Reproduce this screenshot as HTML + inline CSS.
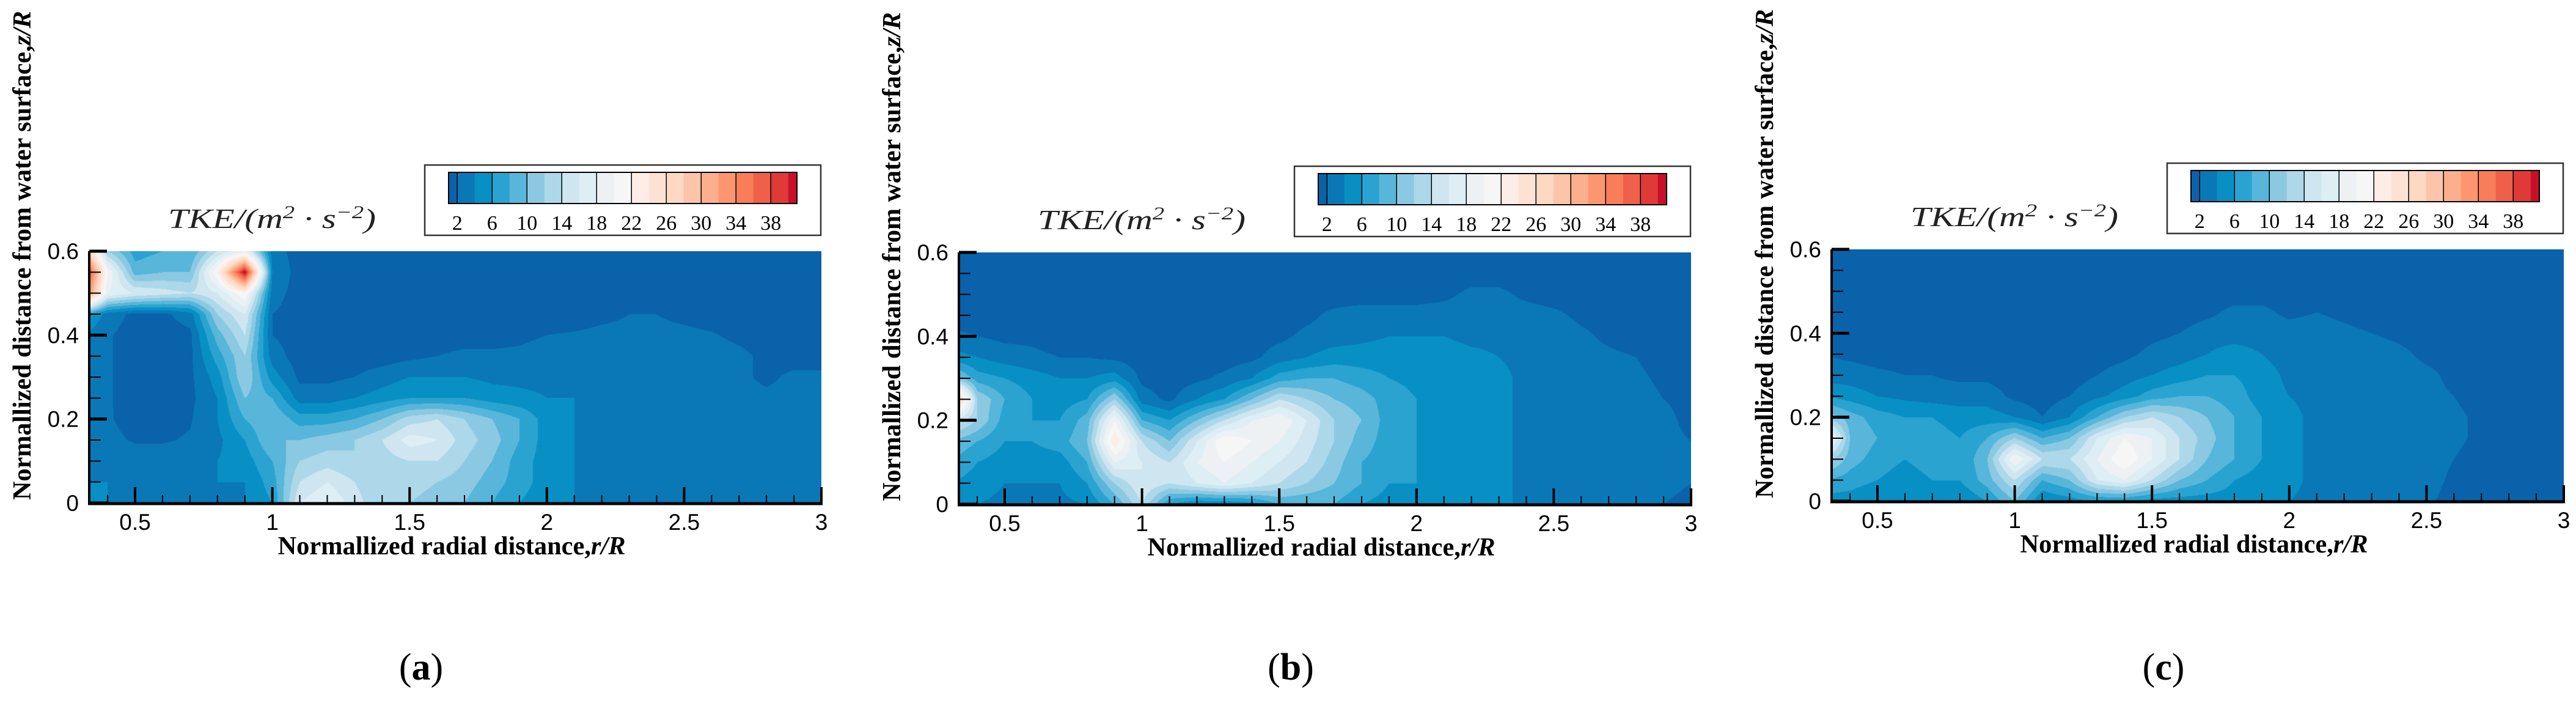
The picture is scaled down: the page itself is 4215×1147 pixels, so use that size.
<!DOCTYPE html>
<html><head><meta charset="utf-8"><style>
html,body{margin:0;padding:0;background:#fff;}
#root{position:relative;width:4215px;height:1147px;overflow:hidden;background:#fff;}
canvas{position:absolute;}
svg{position:absolute;left:0;top:0;}
</style></head><body>
<div id="root">
<svg id="ov" width="4215" height="1147"></svg>
</div>
<script>
// ---- data ----
const rGrid = [0.3,0.4,0.5,0.6,0.7,0.8,0.9,1.0,1.1,1.2,1.3,1.4,1.5,1.6,1.7,1.8,1.9,2.0,2.1,2.2,2.3,2.4,2.5,2.6,2.7,2.8,2.9,3.0];
const zGrid = [0.6,0.55,0.5,0.45,0.4,0.35,0.3,0.25,0.2,0.15,0.1,0.05,0.0];
const xTicks = [0.5,1,1.5,2,2.5,3];
const xTickLabels = ["0.5","1","1.5","2","2.5","3"];
const yTicks = [0,0.2,0.4,0.6];
const yTickLabels = ["0","0.2","0.4","0.6"];
const cbLabels = [2,6,10,14,18,22,26,30,34,38];
const bandColors = ["#0a62aa","#0a78b6","#0890c4","#2aa3d0","#57b6da","#8bc9e2","#acd8ea","#cfe6f0","#ddeef5","#edf1f4","#f6f6f6","#fdede6","#fde2d4","#fdd8c3","#fcc4a8","#fcaf8d","#fb9670","#f87d58","#f05f4a","#e03a38","#c8102a"];
const tkeA = [
[34,12,7,8,8,14,18,3,1,1,1,1,1,1,1,1,1,1,1,1,1,1,1,1,1,1,1,1],
[46,20,9,10,10,22,42,4,1,1,1,1,1,1,1,1,1,1,1,1,1,1,1,1,1,1,1,1],
[40,18,16,15,14,16,22,3,1,1,1,1,1,1,1,1,1,1,1,1,1,1,1,1,1,1,1,1],
[8,3,1.5,1.5,3,12,16,2,1,1,1,1,1,1,1,1,1,1,1,1.5,2,2,1.5,1,1,1,1,1],
[4,2.2,1.2,1.2,1.5,9,14,2,1,1,1,1,1,1,1,1,1.5,2,2.2,2.5,2.5,2.5,2.5,2.2,1.5,1,1,1],
[4,2.2,1.2,1.2,1.5,7,12,3,1,1,1,1,1.5,2,2.5,2.5,2.5,3,3,3,3,3,3,3,2.5,1.5,1,1],
[4,2.2,1.2,1.2,1.5,5,12,5,1.5,1.5,2,3,4,4,4,3.5,3.5,3.5,3.5,3.5,3.5,3.5,3.5,3,2.5,1.5,2.5,2.5],
[4,2.2,1.2,1.2,1.5,4,10,8,3,3,4,5,6,6,6,5,4.5,4,4,3.5,3.5,3.5,3.5,3.5,3,2.5,3,3],
[4,2.2,1.3,1.3,1.8,4,8,10,7,7,8,10,13,14,12,10,8,5,4,3.5,3.5,3.5,3.5,3.5,3,3,3,3],
[4,2.5,1.8,1.8,2.2,3.5,6,10,10,11,12,14,17,16,13,11,8,5,4,3.5,3.5,3.5,3.5,3.5,3,3,3,3],
[4,3.5,3,3,3,4,5,8,12,13,12,13,14,14,12,10,7,5,4,3.5,3.5,3.5,3.5,3.5,3,3,3,3],
[4,4,3.5,3.5,3.5,4,4,7,14,16,14,12,13,12,11,9,7,5,4,3.5,3.5,3.5,3.5,3.5,3,3,3,2.5],
[4,4,3.5,3.5,3.5,3.5,4,6,16,18,15,12,12,11,10,8,6,4.5,4,3.5,3.5,3.5,3.5,3.5,3,3,3,2]
];
const tkeB = [
[1,1,1,1,1,1,1,1,1,1,1,1,1,1,1,1,1,1,1,1,1,1,1,1,1,1,1,1],
[1,1,1,1,1,1,1,1,1,1,1,1,1,1,1,1,1,1,1,1,1,1,1,1,1,1,1,1],
[1,1,1,1,1,1,1,1,1,1,1,1,1,1,1,1,1,1,1.5,2.5,2.5,1.5,1,1,1,1,1,1],
[1,1,1,1,1,1,1,1,1,1,1,1,1,1.5,2.5,3,3,3,3,3,3,3,2.5,1.5,1,1,1,1],
[2.5,2,1.5,1.5,1,1,1,1,1,1,1,1,1.5,2.5,3,3.5,4,4,4,3.5,3.5,3.5,3.5,2.5,1.5,1,1,1],
[5,4,3,2.5,2,2,1.5,1,1,1,1,1.5,3,4,5,5,5,5,5,4.5,4,3.5,3.5,3,2.5,2,1,1],
[12,7,6,5,4,4,5,1.5,1,1.5,2.5,4,7,8,8,7,6,5.5,5,5,4.5,3.5,3.5,3,3,2.5,1.5,1],
[36,12,8,6,5,6,12,3,1.5,4,6,10,14,12,10,9,7,6,5,5,4.5,3.5,3.5,3,3,3,2,1.5],
[16,12,7,6,6,9,20,8,6,10,14,18,20,16,12,10,7,6,5,5,4.5,3.5,3.5,3,3,3,2.5,1.5],
[10,8,6,6,7,10,24,14,10,16,22,20,18,15,12,9,7,6,5,5,4.5,3.5,3.5,3,3,3,2.5,2],
[8,6,5,5,5,8,18,16,14,18,20,18,16,14,11,8,7,6,5,5,4.5,3.5,3.5,3,3,3,2.5,2],
[6,5,4,4,4,6,12,16,14,16,18,16,14,12,10,8,6,6,5,5,4.5,3.5,3.5,3,3,3,2.5,2],
[4,4,3.5,3.5,3.5,4,8,14,6,4,4,5,8,8,8,6,5,5,5,5,4.5,3.5,3.5,3,3,3,2,1.5]
];
const tkeC = [
[1,1,1,1,1,1,1,1,1,1,1,1,1,1,1,1,1,1,1,1,1,1,1,1,1,1,1,1],
[1,1,1,1,1,1,1,1,1,1,1,1,1,1,1,1,1,1,1,1,1,1,1,1,1,1,1,1],
[1,1,1,1,1,1,1,1,1,1,1,1,1,1,1,1,1,1,1,1,1,1,1,1,1,1,1,1],
[1,1,1,1,1,1,1,1,1,1,1,1,1,1,1.5,2.5,2.5,1.5,2,1.5,1,1,1,1,1,1,1,1],
[1,1,1,1,1,1,1,1,1,1,1,1,1.5,2,3,3,3,3,3,2.5,2,1.5,1,1,1,1,1,1],
[2,1.5,1,1,1,1,1,1,1,1,1,1.5,2.5,3,4,5,4,3,3,3,3,2.5,1.5,1,1,1,1,1],
[3,3,2.5,2,2,1.5,1.5,1,1,1,2,3,4,5,6,6,5,3.5,3,3,3,3,2.5,1.5,1,1,1,1],
[6,5,4,3.5,3,3,3,1.5,1,2,3.5,5,7,8,8,7,5,4,3.5,3,3,3,2.5,2,1,1,1,1],
[12,9,7,6,6,5,5,4,2,4,8,12,14,12,10,8,6,4.5,3.5,3,3,3,3,2.5,1.5,1,1,1],
[24,10,8,7,7,6,8,12,8,10,16,20,18,14,11,8,6,4.5,3.5,3,3,3,3,2.5,1.5,1,1,1],
[14,9,7,6,7,6,10,20,14,14,18,22,18,14,10,8,6,4.5,3.5,3,3,3,3,2,1,1,1,1],
[8,7,6,5,6,6,9,14,8,10,16,18,14,10,8,6,5,4.5,3.5,3,3,3,3,1.5,1,1,1,1],
[5,5,4,4,4,4,6,10,4,5,6,6,5,5,5,5,4.5,4,3.5,3,3,3,2.5,1,1,1,1,1]
];
const panelFields = [tkeA, tkeB, tkeC];
const panelLetters = ["a","b","c"];

// ---- layout ----
const R0 = 0.333, R1 = 3.0, Z0 = 0, Z1 = 0.6;
const PW = 1198, PH = 412;
const panelDX = [146, 1569, 2997];
const panelTop = [411, 413, 408];
const NS = "http://www.w3.org/2000/svg";
const ov = document.getElementById('ov');
const root = document.getElementById('root');

function hexRgb(h){return [parseInt(h.substr(1,2),16),parseInt(h.substr(3,2),16),parseInt(h.substr(5,2),16)];}
const bandRgb = bandColors.map(hexRgb);
function bandIndex(v){ if(v<2) return 0; let k=Math.floor(v/2); return Math.min(k,20); }
function sample(field, r, z){
  let fi=(r-rGrid[0])/(rGrid[1]-rGrid[0]);
  let fj=(zGrid[0]-z)/(zGrid[0]-zGrid[1]);
  fi=Math.max(0,Math.min(rGrid.length-1.0001,fi));
  fj=Math.max(0,Math.min(zGrid.length-1.0001,fj));
  const i=Math.floor(fi), j=Math.floor(fj), a=fi-i, b=fj-j;
  return field[j][i]*(1-a)*(1-b)+field[j][i+1]*a*(1-b)+field[j+1][i]*(1-a)*b+field[j+1][i+1]*a*b;
}
function el(tag, attrs, parent){
  const e=document.createElementNS(NS,tag);
  for(const k in attrs) e.setAttribute(k,attrs[k]);
  (parent||ov).appendChild(e); return e;
}

panelFields.forEach((field,p)=>{
  const x0=panelDX[p], y0=panelTop[p];
  const xs = r => x0 + (r-R0)/(R1-R0)*PW;
  const ys = z => y0 + PH - (z-Z0)/(Z1-Z0)*PH;
  const cv=document.createElement('canvas');
  cv.width=PW; cv.height=PH;
  cv.style.left=x0+'px'; cv.style.top=y0+'px';
  
  
  root.insertBefore(cv, ov);
  const ctx=cv.getContext('2d');
  const img=ctx.createImageData(PW,PH);
  for(let py=0;py<PH;py++){
    const z=Z1-(py+0.5)/PH*(Z1-Z0);
    for(let px=0;px<PW;px++){
      const r=R0+(px+0.5)/PW*(R1-R0);
      const c=bandRgb[bandIndex(sample(field,r,z))];
      const o=(py*PW+px)*4;
      img.data[o]=c[0];img.data[o+1]=c[1];img.data[o+2]=c[2];img.data[o+3]=255;
    }
  }
  ctx.putImageData(img,0,0);

  const g=el('g',{});
  
  
  const xAxis=el('line',{x1:x0-2,y1:y0+PH+1,x2:x0+PW+2,y2:y0+PH+1,stroke:'#000','stroke-width':5},g);
  
  
  const yAxis=el('line',{x1:x0,y1:y0,x2:x0,y2:y0+PH+3,stroke:'#000','stroke-width':4},g);
  
  
  for(let k=4;k<=30;k++){
    const r=k/10; if(r<R0) continue;
    const major = (k%5===0);
    const t=el('line',{x1:xs(r),y1:y0+PH,x2:xs(r),y2:y0+PH-(major?26:13),stroke:'#000','stroke-width':major?4:2},g);
    
    
  }
  for(let k=0;k<=12;k++){
    const z=k*0.05; const major=(k%4===0);
    const t=el('line',{x1:x0,y1:ys(z),x2:x0+(major?29:19),y2:ys(z),stroke:'#000','stroke-width':major?5:2},g);
    
    
  }
  xTicks.forEach((r,i)=>{
    const t=el('text',{x:xs(r),y:y0+PH+44,'text-anchor':'middle','font-family':'"Liberation Sans",sans-serif','font-size':37,fill:'#000'},g);
    t.textContent=xTickLabels[i];
    
    
  });
  yTicks.forEach((z,i)=>{
    const t=el('text',{x:x0-17,y:ys(z)+13,'text-anchor':'end','font-family':'"Liberation Sans",sans-serif','font-size':37,fill:'#000'},g);
    t.textContent=yTickLabels[i];
    
    
  });
  const xt=el('text',{x:x0+599-6,y:y0+PH+84,'text-anchor':'middle','font-family':'"Liberation Serif",serif','font-weight':'bold','font-size':42,fill:'#000',textLength:569,lengthAdjust:'spacingAndGlyphs'},g);
  xt.innerHTML='Normallized radial distance,<tspan font-style="italic">r/R</tspan>';
  
  
  const yt=el('text',{x:0,y:0,'text-anchor':'middle','font-family':'"Liberation Serif",serif','font-weight':'bold','font-size':42,fill:'#000',textLength:800,lengthAdjust:'spacingAndGlyphs',transform:`translate(${x0-96},${y0+7}) rotate(-90)`},g);
  yt.innerHTML='Normallized distance from water surface,<tspan font-style="italic">z/R</tspan>';
  
  
  const ct=el('text',{x:x0+299,y:y0-38,'text-anchor':'middle','font-family':'"Liberation Serif",serif','font-style':'italic','font-size':46,fill:'#222',textLength:340,lengthAdjust:'spacingAndGlyphs'},g);
  ct.innerHTML='TKE/(m<tspan dy="-16" font-size="30">2</tspan><tspan dy="16"> · s</tspan><tspan dy="-16" font-size="30">−2</tspan><tspan dy="16">)</tspan>';
  
  
  const bx=x0+549, by=y0-141;
  const box=el('rect',{x:bx,y:by,width:648,height:115,fill:'#fff',stroke:'#333','stroke-width':2.5},g);
  
  
  const gx0=x0+588, gw=570, gy=y0-129, gh=51;
  const vx = v => gx0 + (v-1)/40*gw;
  for(let k=0;k<21;k++){
    const v0=Math.max(1,k*2), v1=Math.min(41,k*2+2);
    const b=el('rect',{x:vx(v0),y:gy,width:vx(v1)-vx(v0)+0.6,height:gh,fill:bandColors[k]},g);
    
    
  }
  cbLabels.forEach(v=>{
    const l=el('line',{x1:vx(v),y1:gy,x2:vx(v),y2:gy+gh,stroke:'#000','stroke-width':1.5},g);
    
    
    const t=el('text',{x:vx(v),y:y0-35,'text-anchor':'middle','font-family':'"Liberation Serif",serif','font-size':34,fill:'#000'},g);
    t.textContent=String(v);
    
    
  });
  const gb=el('rect',{x:gx0,y:gy,width:gw,height:gh,fill:'none',stroke:'#000','stroke-width':2},g);
  
  
  const pl=el('text',{x:x0+543,y:1112,'text-anchor':'middle','font-family':'"Liberation Serif",serif','font-size':62,fill:'#000'},g);
  pl.innerHTML='(<tspan font-weight="bold">'+panelLetters[p]+'</tspan>)';
  
  
});
</script>
</body></html>
